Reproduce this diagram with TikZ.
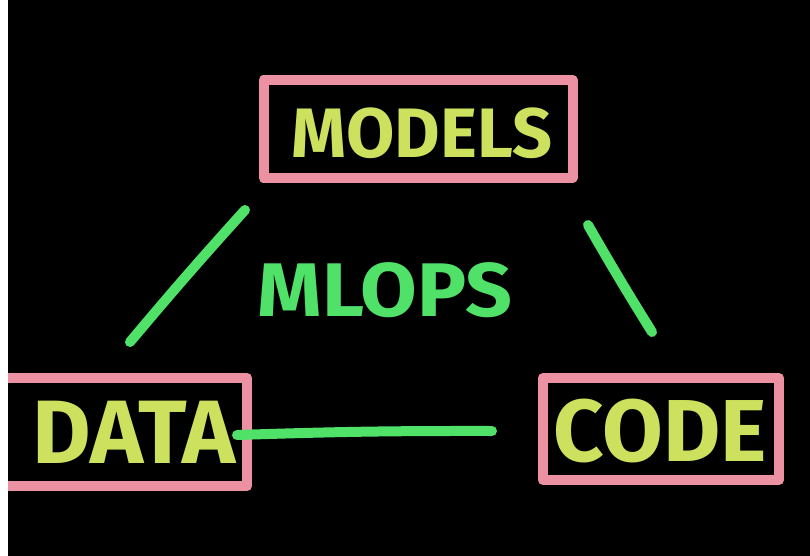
\documentclass[tikz,border=0pt]{standalone}
\usepackage{fontspec}
\setmainfont{Fira Sans}
\usetikzlibrary{positioning}

\definecolor{chalkpink}{RGB}{235,145,162}
\definecolor{chalkyellow}{RGB}{205,225,95}
\definecolor{chalkgreen}{RGB}{80,225,105}

\begin{document}
\begin{tikzpicture}[x=1pt, y=-1pt,
    frame/.style={draw=chalkpink, line width=10pt, line join=round, inner sep=0pt},
    word/.style={text=chalkyellow, font=\fontsize{70}{70}\selectfont\bfseries, inner sep=0pt},
    link/.style={draw=chalkgreen, line width=10pt, line cap=round}]
        \useasboundingbox (0,0) rectangle (810,556);
        \fill[white] (0,0) rectangle (8,556);
        \fill[black] (8,0) rectangle (810,556);

        \begin{scope}
        \clip (8,0) rectangle (810,556);
        \node (mbox) [frame, minimum width=309pt, minimum height=98pt] at (418,129) {};
        \node (dbox) [frame, minimum width=262pt, minimum height=108pt] at (116,432) {};
        \node (cbox) [frame, minimum width=236pt, minimum height=102pt] at (661,429) {};
        \end{scope}

        \node (models) [word] at (422,133) {MODELS};
        \node (data) [word, font=\fontsize{90}{90}\selectfont\bfseries] at (134,432) {DATA};
        \node (code) [word, font=\fontsize{88}{88}\selectfont\bfseries] at (660,431) {CODE};
        \node (mlops) [word, text=chalkgreen, xscale=1.08, font=\fontsize{76}{76}\selectfont\bfseries] at (385,290) {MLOPS};

        \coordinate (dm) at (130,342);
        \coordinate (md) at (245,210);
        \coordinate (mc) at (588,225);
        \coordinate (cm) at (652,332);
        \coordinate (dc) at (237,435);
        \coordinate (cd) at (492,431);

        \foreach \a/\b/\g in {dm/md/1, mc/cm/-1, dc/cd/1}
            \path [link] (\a) to [bend left=\g] (\b);
    \end{tikzpicture}
\end{document}
